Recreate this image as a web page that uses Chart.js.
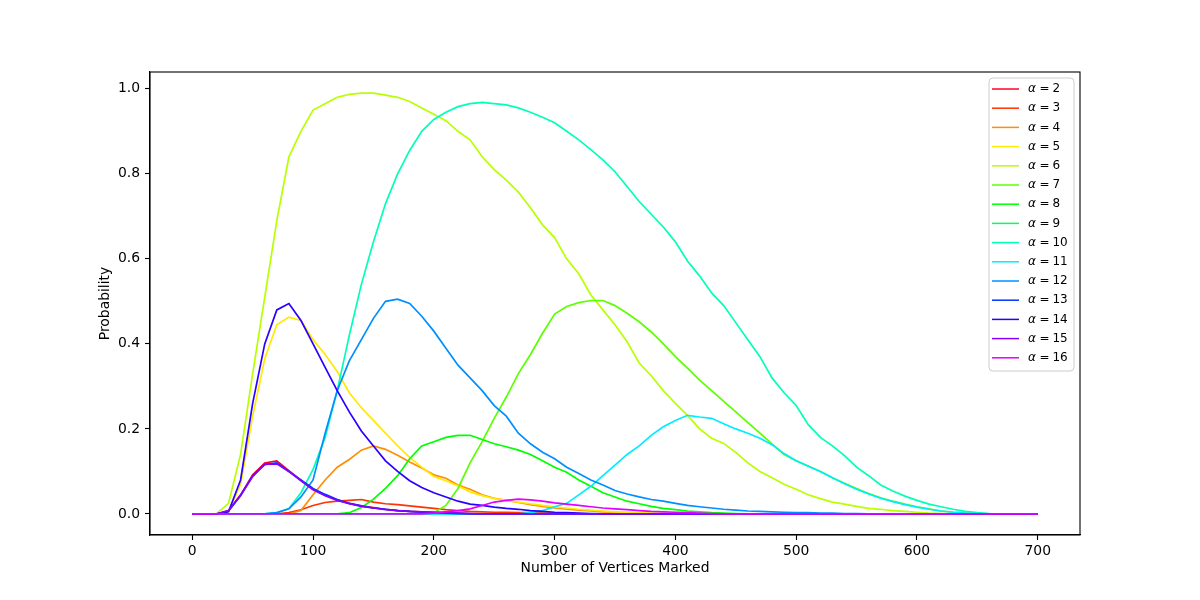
<!DOCTYPE html>
<html>
<head>
<meta charset="utf-8">
<script src="https://cdn.jsdelivr.net/npm/chart.js@4.4.1/dist/chart.umd.min.js"></script>
<style>
  html, body { margin: 0; padding: 0; background: #fff; }
</style>
</head>
<body>
<canvas id="myChart" width="1200" height="600"></canvas>
<script>
// number of vertices marked (sampled every 10)
const xs = [
  0, 10, 20, 30, 40, 50, 60, 70, 80, 90,
  100, 110, 120, 130, 140, 150, 160, 170, 180, 190,
  200, 210, 220, 230, 240, 250, 260, 270, 280, 290,
  300, 310, 320, 330, 340, 350, 360, 370, 380, 390,
  400, 410, 420, 430, 440, 450, 460, 470, 480, 490,
  500, 510, 520, 530, 540, 550, 560, 570, 580, 590,
  600, 610, 620, 630, 640, 650, 660, 670, 680, 690,
  700
]

const a2 = [
  0, 0, 0, 0.008, 0.045, 0.092, 0.12, 0.125, 0.102, 0.079,
  0.058, 0.044, 0.033, 0.025, 0.019, 0.015, 0.011, 0.008, 0.006, 0.005,
  0.004, 0.003, 0.002, 0.001, 0, 0, 0, 0, 0, 0,
  0, 0, 0, 0, 0, 0, 0, 0, 0, 0,
  0, 0, 0, 0, 0, 0, 0, 0, 0, 0,
  0, 0, 0, 0, 0, 0, 0, 0, 0, 0,
  0, 0, 0, 0, 0, 0, 0, 0, 0, 0,
  0
]
const a3 = [
  0, 0, 0, 0, 0, 0, 0, 0, 0.003, 0.01,
  0.02, 0.027, 0.03, 0.032, 0.034, 0.028, 0.024, 0.022, 0.019, 0.016,
  0.013, 0.01, 0.008, 0.006, 0.005, 0.004, 0.004, 0.003, 0.003, 0.002,
  0.002, 0.001, 0, 0, 0, 0, 0, 0, 0, 0,
  0, 0, 0, 0, 0, 0, 0, 0, 0, 0,
  0, 0, 0, 0, 0, 0, 0, 0, 0, 0,
  0, 0, 0, 0, 0, 0, 0, 0, 0, 0,
  0
]
const a4 = [
  0, 0, 0, 0, 0, 0, 0, 0, 0, 0.008,
  0.045, 0.08, 0.11, 0.128, 0.15, 0.16, 0.152, 0.138, 0.122, 0.108,
  0.092, 0.084, 0.068, 0.058, 0.045, 0.037, 0.032, 0.027, 0.022, 0.018,
  0.014, 0.011, 0.009, 0.007, 0.005, 0.004, 0.003, 0.002, 0.001, 0,
  0, 0, 0, 0, 0, 0, 0, 0, 0, 0,
  0, 0, 0, 0, 0, 0, 0, 0, 0, 0,
  0, 0, 0, 0, 0, 0, 0, 0, 0, 0,
  0
]
const a5 = [
  0, 0, 0, 0.005, 0.07, 0.23, 0.365, 0.445, 0.463, 0.455,
  0.41, 0.375, 0.335, 0.285, 0.25, 0.22, 0.19, 0.16, 0.133, 0.11,
  0.088, 0.078, 0.066, 0.052, 0.043, 0.036, 0.032, 0.028, 0.024, 0.02,
  0.017, 0.014, 0.011, 0.009, 0.007, 0.005, 0.004, 0.003, 0.002, 0.001,
  0, 0, 0, 0, 0, 0, 0, 0, 0, 0,
  0, 0, 0, 0, 0, 0, 0, 0, 0, 0,
  0, 0, 0, 0, 0, 0, 0, 0, 0, 0,
  0
]
const a6 = [
  0, 0, 0, 0.025, 0.14, 0.33, 0.51, 0.69, 0.84, 0.9,
  0.95, 0.965, 0.98, 0.987, 0.99, 0.99, 0.985, 0.98, 0.97, 0.955,
  0.94, 0.925, 0.9, 0.88, 0.84, 0.81, 0.785, 0.757, 0.72, 0.68,
  0.65, 0.6, 0.565, 0.515, 0.48, 0.445, 0.405, 0.355, 0.325, 0.29,
  0.26, 0.232, 0.2, 0.178, 0.166, 0.145, 0.12, 0.1, 0.085, 0.07,
  0.058, 0.045, 0.036, 0.028, 0.023, 0.018, 0.013, 0.011, 0.008, 0.006,
  0.004, 0.002, 0.001, 0, 0, 0, 0, 0, 0, 0,
  0
]
const a7 = [
  0, 0, 0, 0, 0, 0, 0, 0, 0, 0,
  0, 0, 0, 0, 0, 0, 0, 0, 0, 0,
  0.003, 0.02, 0.06, 0.12, 0.17, 0.225, 0.275, 0.33, 0.375, 0.425,
  0.47, 0.488, 0.497, 0.502, 0.502, 0.49, 0.472, 0.452, 0.428, 0.4,
  0.37, 0.343, 0.315, 0.29, 0.265, 0.24, 0.215, 0.19, 0.165, 0.14,
  0.125, 0.113, 0.1, 0.085, 0.072, 0.06, 0.048, 0.038, 0.03, 0.023,
  0.017, 0.012, 0.007, 0.004, 0.002, 0, 0, 0, 0, 0,
  0
]
const a8 = [
  0, 0, 0, 0, 0, 0, 0, 0, 0, 0,
  0, 0, 0, 0.003, 0.015, 0.035, 0.06, 0.09, 0.13, 0.16,
  0.17, 0.18, 0.185, 0.185, 0.175, 0.165, 0.158, 0.15, 0.14, 0.125,
  0.11, 0.098, 0.08, 0.065, 0.05, 0.04, 0.03, 0.024, 0.018, 0.013,
  0.01, 0.007, 0.005, 0.003, 0.002, 0.001, 0, 0, 0, 0,
  0, 0, 0, 0, 0, 0, 0, 0, 0, 0,
  0, 0, 0, 0, 0, 0, 0, 0, 0, 0,
  0
]
const a9 = [
  0, 0, 0, 0, 0, 0, 0, 0, 0, 0,
  0, 0, 0, 0, 0, 0, 0, 0, 0, 0,
  0, 0, 0, 0, 0, 0, 0, 0, 0, 0,
  0, 0, 0, 0, 0, 0, 0, 0, 0, 0,
  0, 0, 0, 0, 0, 0, 0, 0, 0, 0,
  0, 0, 0, 0, 0, 0, 0, 0, 0, 0,
  0, 0, 0, 0, 0, 0, 0, 0, 0, 0,
  0
]
const a10 = [
  0, 0, 0, 0, 0, 0, 0, 0.003, 0.013, 0.05,
  0.105, 0.18, 0.29, 0.42, 0.54, 0.64, 0.73, 0.8, 0.855, 0.9,
  0.928, 0.945, 0.958, 0.965, 0.968, 0.965, 0.962, 0.955, 0.945, 0.933,
  0.92, 0.9, 0.88, 0.857, 0.833, 0.805, 0.77, 0.735, 0.705, 0.675,
  0.64, 0.595, 0.56, 0.52, 0.49, 0.45, 0.41, 0.37, 0.32, 0.285,
  0.255, 0.21, 0.18, 0.16, 0.137, 0.11, 0.09, 0.068, 0.054, 0.042,
  0.032, 0.023, 0.017, 0.011, 0.006, 0.003, 0.001, 0, 0, 0,
  0
]
const a11 = [
  0, 0, 0, 0, 0, 0, 0, 0, 0, 0,
  0, 0, 0, 0, 0, 0, 0, 0, 0, 0,
  0, 0, 0, 0, 0, 0, 0, 0, 0.003, 0.008,
  0.017, 0.025, 0.045, 0.065, 0.09, 0.115, 0.14, 0.16, 0.185, 0.205,
  0.22, 0.232, 0.228, 0.225, 0.212, 0.2, 0.19, 0.178, 0.163, 0.142,
  0.125, 0.112, 0.1, 0.085, 0.071, 0.058, 0.047, 0.037, 0.029, 0.022,
  0.016, 0.011, 0.007, 0.004, 0.002, 0.001, 0, 0, 0, 0,
  0
]
const a12 = [
  0, 0, 0, 0, 0, 0, 0, 0.003, 0.012, 0.04,
  0.08, 0.19, 0.29, 0.36, 0.41, 0.46, 0.5, 0.505, 0.495, 0.465,
  0.43, 0.39, 0.35, 0.32, 0.29, 0.255, 0.23, 0.19, 0.165, 0.145,
  0.13, 0.11, 0.095, 0.08, 0.068, 0.055, 0.047, 0.04, 0.034, 0.03,
  0.025, 0.02, 0.017, 0.014, 0.011, 0.009, 0.007, 0.006, 0.005, 0.004,
  0.003, 0.003, 0.002, 0.002, 0.001, 0.001, 0, 0, 0, 0,
  0, 0, 0, 0, 0, 0, 0, 0, 0, 0,
  0
]
const a13 = [
  0, 0, 0, 0.007, 0.043, 0.09, 0.116, 0.12, 0.1, 0.08,
  0.06, 0.046, 0.034, 0.025, 0.019, 0.014, 0.011, 0.008, 0.006, 0.004,
  0.003, 0.002, 0.001, 0, 0, 0, 0, 0, 0, 0,
  0, 0, 0, 0, 0, 0, 0, 0, 0, 0,
  0, 0, 0, 0, 0, 0, 0, 0, 0, 0,
  0, 0, 0, 0, 0, 0, 0, 0, 0, 0,
  0, 0, 0, 0, 0, 0, 0, 0, 0, 0,
  0
]
const a14 = [
  0, 0, 0, 0.005, 0.08, 0.26, 0.4, 0.48, 0.495, 0.455,
  0.4, 0.345, 0.29, 0.24, 0.195, 0.16, 0.125, 0.1, 0.078, 0.062,
  0.05, 0.04, 0.03, 0.023, 0.02, 0.016, 0.013, 0.011, 0.008, 0.006,
  0.004, 0.003, 0.002, 0.001, 0, 0, 0, 0, 0, 0,
  0, 0, 0, 0, 0, 0, 0, 0, 0, 0,
  0, 0, 0, 0, 0, 0, 0, 0, 0, 0,
  0, 0, 0, 0, 0, 0, 0, 0, 0, 0,
  0
]
const a15 = [
  0, 0, 0, 0.008, 0.044, 0.088, 0.117, 0.118, 0.1, 0.078,
  0.057, 0.043, 0.032, 0.024, 0.018, 0.014, 0.01, 0.008, 0.006, 0.005,
  0.004, 0.003, 0.002, 0.001, 0, 0, 0, 0, 0, 0,
  0, 0, 0, 0, 0, 0, 0, 0, 0, 0,
  0, 0, 0, 0, 0, 0, 0, 0, 0, 0,
  0, 0, 0, 0, 0, 0, 0, 0, 0, 0,
  0, 0, 0, 0, 0, 0, 0, 0, 0, 0,
  0
]
const a16 = [
  0, 0, 0, 0, 0, 0, 0, 0, 0, 0,
  0, 0, 0, 0, 0, 0, 0, 0, 0, 0,
  0.002, 0.005, 0.008, 0.012, 0.02, 0.028, 0.032, 0.035, 0.033, 0.03,
  0.026, 0.023, 0.02, 0.017, 0.014, 0.012, 0.01, 0.008, 0.006, 0.005,
  0.004, 0.003, 0.002, 0.001, 0, 0, 0, 0, 0, 0,
  0, 0, 0, 0, 0, 0, 0, 0, 0, 0,
  0, 0, 0, 0, 0, 0, 0, 0, 0, 0,
  0
]

const alphas = [2, 3, 4, 5, 6, 7, 8, 9, 10, 11, 12, 13, 14, 15, 16]
const series = [a2, a3, a4, a5, a6, a7, a8, a9, a10, a11, a12, a13, a14, a15, a16]
// gist_rainbow style colours
const colors = [
  "#ff0029", "#ff3300", "#ff8e00", "#ffea00", "#b8ff00",
  "#5cff00", "#00ff00", "#00ff5b", "#00ffb7", "#00ecff",
  "#008fff", "#0033ff", "#2a00ff", "#8600ff", "#e200ff"
]
const xTicks = [0, 100, 200, 300, 400, 500, 600, 700]
const yTicks = [0, 0.2, 0.4, 0.6, 0.8, 1.0]

const FONT = '"DejaVu Sans", sans-serif'
const ctx = document.getElementById('myChart')

const datasets = series.map((arr, i) => ({
  label: "α = " + alphas[i],
  data: xs.map((x, j) => ({ x: x, y: arr[j] })),
  borderColor: colors[i],
  backgroundColor: colors[i],
  borderWidth: 1.7,
  pointRadius: 0,
  tension: 0,
  fill: false,
  order: series.length - 1 - i   // later series on top, like matplotlib
}))

// frame around the plot area + legend box in the top right corner
const frameAndLegend = {
  id: 'frameAndLegend',
  afterDraw(chart) {
    const c = chart.ctx
    const area = chart.chartArea
    c.save()
    c.strokeStyle = '#000'
    c.lineWidth = 1.1
    c.strokeRect(area.left, area.top, area.right - area.left, area.bottom - area.top)

    const w = 85, h = 293
    const left = area.right - 6 - w
    const top = area.top + 6
    c.beginPath()
    c.roundRect(left, top, w, h, 4)
    c.fillStyle = 'rgba(255,255,255,0.8)'
    c.fill()
    c.strokeStyle = '#cccccc'
    c.lineWidth = 1
    c.stroke()

    c.textBaseline = 'middle'
    c.textAlign = 'left'
    chart.data.datasets.forEach((ds, i) => {
      const y = top + 11 + i * 19.2
      c.strokeStyle = ds.borderColor
      c.lineWidth = 1.5
      c.beginPath()
      c.moveTo(left + 3, y)
      c.lineTo(left + 30, y)
      c.stroke()

      c.fillStyle = '#000'
      let tx = left + 39
      c.font = 'italic 12px ' + FONT
      c.fillText('α', tx, y)
      tx += c.measureText('α').width + 3.5
      c.font = '12px ' + FONT
      c.fillText('=', tx, y)
      tx += c.measureText('=').width + 3
      c.fillText(String(alphas[i]), tx, y)
    })
    c.restore()
  }
}

new Chart(ctx, {
  type: 'line',
  data: { datasets: datasets },
  options: {
    responsive: false,
    animation: false,
    layout: { padding: { left: 0, right: 120, top: 72, bottom: 0 } },
    plugins: {
      legend: { display: false },
      tooltip: { enabled: false }
    },
    scales: {
      x: {
        type: 'linear',
        min: -35,
        max: 735,
        afterBuildTicks: axis => { axis.ticks = xTicks.map(v => ({ value: v })) },
        afterFit: axis => { axis.height = 65 },
        ticks: {
          color: '#000',
          font: { family: FONT, size: 13.9 },
          padding: 3,
          maxRotation: 0,
          autoSkip: false
        },
        grid: { drawOnChartArea: false, tickLength: 5, tickColor: '#000', tickWidth: 1.1 },
        border: { color: '#000', width: 1.1 },
        title: {
          display: true,
          text: 'Number of Vertices Marked',
          color: '#000',
          font: { family: FONT, size: 13.9 },
          padding: { top: 0, bottom: 23 }
        }
      },
      y: {
        min: -0.0495,
        max: 1.0395,
        afterBuildTicks: axis => { axis.ticks = yTicks.map(v => ({ value: v })) },
        afterFit: axis => { axis.width = 150 },
        ticks: {
          color: '#000',
          font: { family: FONT, size: 13.9 },
          padding: 5,
          callback: v => Number(v).toFixed(1)
        },
        grid: { drawOnChartArea: false, tickLength: 5, tickColor: '#000', tickWidth: 1.1 },
        border: { color: '#000', width: 1.1 },
        title: {
          display: true,
          text: 'Probability',
          color: '#000',
          font: { family: FONT, size: 13.9 },
          padding: { top: 97, bottom: 0 }
        }
      }
    }
  },
  plugins: [frameAndLegend]
})
</script>
</body>
</html>
